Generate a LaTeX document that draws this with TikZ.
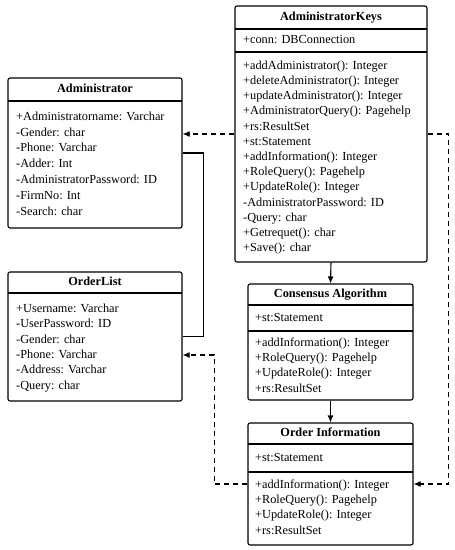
\documentclass[tikz,border=0pt]{standalone}
\usepackage{fontspec}
\setmainfont{Liberation Serif}
\usetikzlibrary{arrows.meta,calc}
\begin{document}
\begin{tikzpicture}[x=1pt,y=-1pt,
  umlbox/.style={draw,line width=1.1pt,rounded corners=2pt,inner sep=0pt},
  sep/.style={line width=1.1pt},
  ttl/.style={font=\fontsize{12.3}{14}\selectfont\bfseries,inner sep=0pt,anchor=mid},
  txt/.style={font=\fontsize{12.3}{14}\selectfont,inner sep=0pt,anchor=mid west},
  solidarrow/.style={line width=1.1pt,-{Latex[length=7pt,width=6pt]}},
  dasharrow/.style={line width=1.1pt,dash pattern=on 5pt off 4pt,-{Latex[length=7pt,width=6pt]}},
  link/.style={line width=1.1pt}]
\useasboundingbox (0,0) rectangle (455,550);
% AdministratorKeys
\node[umlbox,minimum width=192pt,minimum height=256pt] (ak) at (331,134) {};
\draw[sep] (235,29) -- (427,29);
\draw[sep] (235,52) -- (427,52);
\node[ttl] (akt) at (331,18) {AdministratorKeys};
\node[txt] (ak0) at (243,41) {+conn: DBConnection};
\node[txt] (ak1) at (243,67) {+addAdministrator(): Integer};
\node[txt] (ak2) at (243,82.2) {+deleteAdministrator(): Integer};
\node[txt] (ak3) at (243,97.4) {+updateAdministrator(): Integer};
\node[txt] (ak4) at (243,112.6) {+AdministratorQuery(): Pagehelp};
\node[txt] (ak5) at (243,127.8) {+rs:ResultSet};
\node[txt] (ak6) at (243,143) {+st:Statement};
\node[txt] (ak7) at (243,158.2) {+addInformation(): Integer};
\node[txt] (ak8) at (243,173.4) {+RoleQuery(): Pagehelp};
\node[txt] (ak9) at (243,188.6) {+UpdateRole(): Integer};
\node[txt] (ak10) at (243,203.8) {-AdministratorPassword: ID};
\node[txt] (ak11) at (243,219) {-Query: char};
\node[txt] (ak12) at (243,234.2) {+Getrequet(): char};
\node[txt] (ak13) at (243,249.4) {+Save(): char};
% Administrator
\node[umlbox,minimum width=174pt,minimum height=150pt] (adm) at (95,153) {};
\draw[sep] (8,101) -- (182,101);
\node[ttl] (admt) at (95,90) {Administrator};
\node[txt] (adm1) at (16,118) {+Administratorname: Varchar};
\node[txt] (adm2) at (16,133.8) {-Gender: char};
\node[txt] (adm3) at (16,149.6) {-Phone: Varchar};
\node[txt] (adm4) at (16,165.4) {-Adder: Int};
\node[txt] (adm5) at (16,181.2) {-AdministratorPassword: ID};
\node[txt] (adm6) at (16,197) {-FirmNo: Int};
\node[txt] (adm7) at (16,212.8) {-Search: char};
% OrderList
\node[umlbox,minimum width=174pt,minimum height=129pt] (ol) at (95,336.5) {};
\draw[sep] (8,293) -- (182,293);
\node[ttl] (olt) at (95,283) {OrderList};
\node[txt] (ol1) at (16,310) {+Username: Varchar};
\node[txt] (ol2) at (16,325.4) {-UserPassword: ID};
\node[txt] (ol3) at (16,340.8) {-Gender: char};
\node[txt] (ol4) at (16,356.2) {-Phone: Varchar};
\node[txt] (ol5) at (16,371.6) {-Address: Varchar};
\node[txt] (ol6) at (16,387) {-Query: char};
% Consensus Algorithm
\node[umlbox,minimum width=165pt,minimum height=116pt] (ca) at (330.5,342) {};
\draw[sep] (248,305) -- (413,305);
\draw[sep] (248,331) -- (413,331);
\node[ttl] (cat) at (330.5,295) {Consensus Algorithm};
\node[txt] (ca0) at (255,319) {+st:Statement};
\node[txt] (ca1) at (255,344) {+addInformation(): Integer};
\node[txt] (ca2) at (255,359.3) {+RoleQuery(): Pagehelp};
\node[txt] (ca3) at (255,374.6) {+UpdateRole(): Integer};
\node[txt] (ca4) at (255,390) {+rs:ResultSet};
% Order Information
\node[umlbox,minimum width=165pt,minimum height=122pt] (oi) at (330.5,484) {};
\draw[sep] (248,444) -- (413,444);
\draw[sep] (248,472) -- (413,472);
\node[ttl] (oit) at (330.5,434) {Order Information};
\node[txt] (oi0) at (255,459) {+st:Statement};
\node[txt] (oi1) at (255,486) {+addInformation(): Integer};
\node[txt] (oi2) at (255,501.3) {+RoleQuery(): Pagehelp};
\node[txt] (oi3) at (255,516.6) {+UpdateRole(): Integer};
\node[txt] (oi4) at (255,532) {+rs:ResultSet};
% connectors
\draw[dasharrow] (ak.west) -- (ak.west -| adm.east);
\draw[link] (adm.east) -- ++(21,0) |- (ol.east);
\draw[dasharrow] (oi.west) -- ++(-33,0) |- ($(ol.east)+(0,18.5)$);
\draw[dasharrow] (ak.east) -- ++(21,0) |- (oi.east);
\draw[solidarrow] (ak.south) -- (ca.north);
\draw[solidarrow] (ca.south) -- (oi.north);
\end{tikzpicture}
\end{document}
